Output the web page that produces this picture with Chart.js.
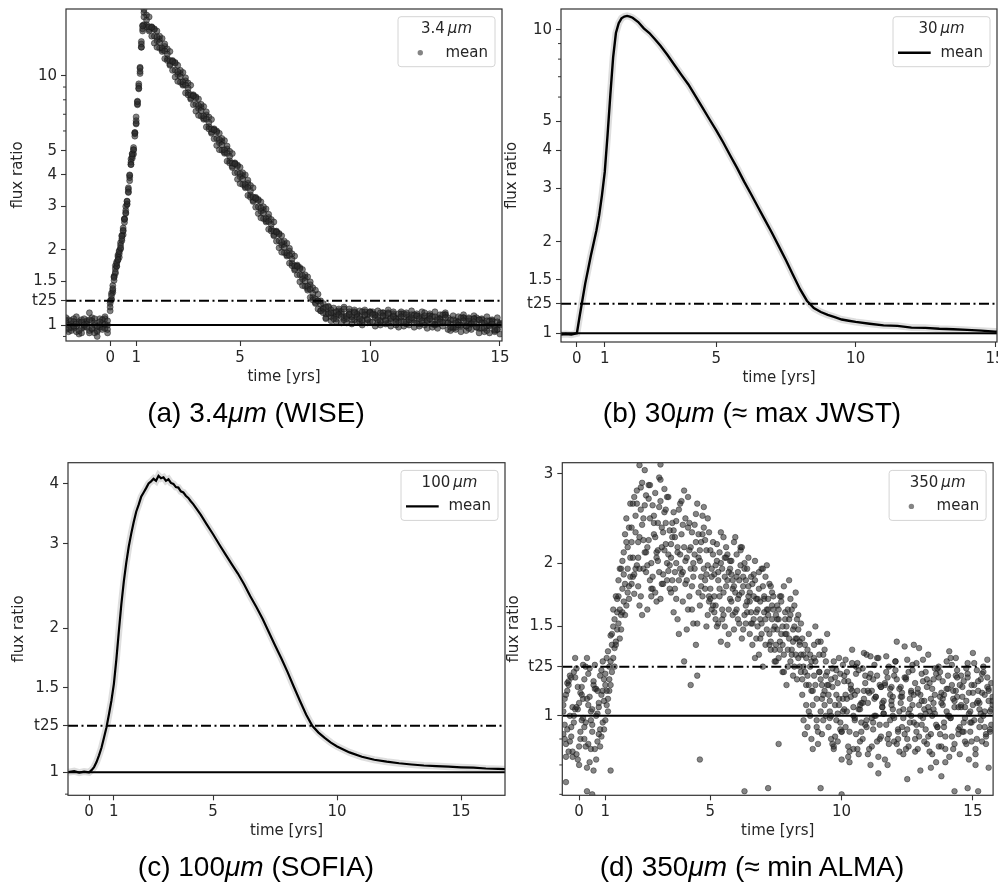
<!DOCTYPE html>
<html><head><meta charset="utf-8">
<script src="https://cdn.jsdelivr.net/npm/chart.js@4.4.1/dist/chart.umd.min.js"></script>
<style>
html,body{margin:0;padding:0;background:#fff;width:998px;height:885px;overflow:hidden;position:relative;}
canvas{position:absolute;}
.cap{position:absolute;font-family:"Liberation Sans",Arial,sans-serif;font-size:28px;color:#000;white-space:nowrap;transform:translate(-50%,-50%);line-height:1;}
.cap i{font-style:italic;}
</style></head><body>
<canvas id="cA" width="512" height="440" style="left:0;top:0"></canvas>
<canvas id="cB" width="500" height="440" style="left:498px;top:0"></canvas>
<canvas id="cC" width="512" height="455" style="left:0;top:430px"></canvas>
<canvas id="cD" width="500" height="455" style="left:498px;top:430px"></canvas>
<div class="cap" style="left:256px;top:413px">(a) 3.4<i>μm</i> (WISE)</div>
<div class="cap" style="left:752px;top:413px">(b) 30<i>μm</i> (≈ max JWST)</div>
<div class="cap" style="left:256px;top:867px">(c) 100<i>μm</i> (SOFIA)</div>
<div class="cap" style="left:752px;top:867px">(d) 350<i>μm</i> (≈ min ALMA)</div>
<script>
// ---------- tick values ----------
const T25 = 1.25;
const xTicks = [0, 1, 5, 10, 15];
const yTicksAB = [1, T25, 1.5, 2, 3, 4, 5, 10];
const yTicksC = [1, T25, 1.5, 2, 3, 4];
const yTicksD = [1, T25, 1.5, 2, 3];
const minorA = [0.9, 6, 7, 8, 9];
const minorB = [6, 7, 8, 9];
const minorC = [0.9];
const minorD = [0.7, 0.8, 0.9];

// ---------- (a) 3.4 um : scatter samples ----------
const tA = [-1.7,-1.6,-1.5,-1.4,-1.3,-1.2,-1.1,-1.0,-0.9,-0.8,-0.7,-0.6,-0.5,-0.4,-0.3,-0.2,-0.1,
0,0.05,0.1,0.15,0.2,0.25,0.3,0.35,0.4,0.45,0.5,0.55,0.6,0.65,0.7,0.75,0.8,0.85,0.9,0.95,1.0,1.05,1.1,1.15,1.2,1.25,
1.3,1.4,1.5,1.6,1.7,1.8,1.9,2.0,2.1,2.2,2.3,2.4,2.5,2.6,2.7,2.8,2.9,3.0,3.1,3.2,3.3,3.4,3.5,3.6,3.7,3.8,3.9,4.0,4.1,4.2,4.3,4.4,4.5,4.6,4.7,4.8,4.9,5.0,5.1,5.2,5.3,5.4,5.5,5.6,5.7,5.8,5.9,6.0,6.1,6.2,6.3,6.4,6.5,6.6,6.7,6.8,6.9,7.0,7.1,7.2,7.3,7.4,7.5,7.6,7.7,7.8,7.9,8.0,
8.1,8.2,8.3,8.4,8.5,8.6,8.7,8.8,8.9,9.0,9.1,9.2,9.3,9.4,9.5,9.6,9.7,9.8,9.9,10.0,10.1,10.2,10.3,10.4,10.5,10.6,10.7,10.8,10.9,11.0,11.1,11.2,11.3,11.4,11.5,11.6,11.7,11.8,11.9,12.0,12.1,12.2,12.3,12.4,12.5,12.6,12.7,12.8,12.9,13.0,13.1,13.2,13.3,13.4,13.5,13.6,13.7,13.8,13.9,14.0,14.1,14.2,14.3,14.4,14.5,14.6,14.7,14.8,14.9,15.0];
const fluxA1 = [1.02,0.97,1.04,0.99,1.01,0.95,1.03,1.00,0.98,1.05,0.97,1.02,0.99,1.03,0.96,1.01,1.04,
1.18,1.31,1.40,1.55,1.63,1.77,1.83,1.97,2.04,2.27,2.40,2.65,2.82,3.13,3.42,3.98,4.40,4.85,5.05,5.85,6.45,7.85,8.9,10.7,13.0,15.8,
17.2,16.7,15.7,15.6,14.4,14.3,13.6,12.9,12.55,12.2,11.5,11.4,10.5,10.4,9.9,9.43,9.16,8.9,8.39,8.30,7.67,7.6,7.24,6.89,6.69,6.49,6.12,6.06,5.6,5.54,5.28,5.03,4.88,4.74,4.46,4.43,4.09,4.05,3.85,3.66,3.56,3.45,3.26,3.22,2.98,2.95,2.81,2.67,2.60,2.53,2.38,2.36,2.18,2.15,2.05,1.95,1.90,1.84,1.73,1.72,1.59,1.58,1.50,1.43,1.39,1.34,1.27,1.25,
1.21,1.12,1.18,1.11,1.12,1.06,1.13,1.10,1.08,1.16,1.08,1.10,1.05,1.12,1.08,1.06,1.13,1.10,1.05,1.12,1.10,1.07,1.05,1.12,1.09,1.04,1.11,1.06,1.08,1.03,1.11,1.08,1.03,1.10,1.05,1.07,1.02,1.09,1.06,1.04,1.09,1.04,1.06,1.01,1.08,1.05,1.03,1.10,1.07,1.02,0.98,1.05,1.02,1.00,1.07,1.04,0.99,1.06,1.01,1.03,0.98,1.05,1.02,0.97,1.04,0.99,1.01,0.96,1.03,1.00];
const fluxA2 = [0.96,1.05,0.98,1.03,0.94,1.02,0.97,1.06,1.01,0.95,1.04,0.93,0.90,0.98,1.05,0.97,1.00,
1.22,1.27,1.44,1.51,1.68,1.72,1.88,1.93,2.09,2.22,2.45,2.58,2.88,3.06,3.50,3.90,4.50,4.75,5.15,5.72,6.6,7.7,9.1,10.4,13.4,15.4,
18.4,15.7,17.2,14.4,15.3,13.0,14.4,12.7,13.4,11.5,12.5,10.5,11.2,9.49,10.5,9.24,9.80,8.37,9.15,7.65,8.14,6.93,7.67,6.75,7.16,6.11,6.67,5.58,5.94,5.05,5.60,4.93,5.22,4.46,4.87,4.08,4.34,3.69,4.08,3.59,3.81,3.25,3.55,2.97,3.16,2.69,2.98,2.62,2.78,2.38,2.59,2.17,2.31,1.96,2.17,1.91,2.03,1.73,1.89,1.59,1.68,1.44,1.59,1.40,1.49,1.26,1.38,1.16,
1.14,1.16,1.11,1.18,1.08,1.12,1.09,1.14,1.13,1.05,1.06,1.11,1.08,1.13,1.11,1.03,1.04,1.09,1.06,1.13,1.11,1.10,1.02,1.03,1.08,1.05,1.12,1.04,1.09,1.06,1.07,1.04,1.11,1.03,1.08,1.05,1.10,1.09,1.01,1.02,1.07,1.04,1.09,1.08,1.00,1.01,1.06,1.03,1.10,1.02,1.05,0.97,0.98,1.03,1.00,1.07,0.99,1.04,1.01,1.06,0.98,1.05,0.97,1.02,0.99,1.04,1.03,0.95,0.96,1.01];
const fluxA3 = [1.04,1.00,0.95,1.06,0.99,1.03,0.93,0.98,1.04,1.12,0.96,1.06,0.95,1.00,1.02,1.06,0.96,
1.14,1.34,1.38,1.57,1.61,1.79,1.82,1.99,2.02,2.29,2.38,2.66,2.80,3.14,3.40,4.00,4.40,4.86,5.04,5.90,6.4,7.9,8.85,10.8,13.0,15.9,
16.0,17.5,15.3,15.7,13.5,15.1,12.9,14.1,11.7,12.8,11.1,11.5,9.87,11.0,9.41,10.3,8.52,9.34,8.13,8.38,7.20,8.06,6.88,7.52,6.22,6.82,5.93,6.12,5.25,5.87,5.02,5.49,4.54,4.97,4.33,4.47,3.84,4.29,3.66,4.00,3.31,3.63,3.16,3.25,2.80,3.12,2.67,2.92,2.42,2.65,2.30,2.38,2.04,2.28,1.95,2.13,1.77,1.93,1.68,1.74,1.49,1.67,1.43,1.56,1.29,1.41,1.23,1.33,
1.25,1.17,1.07,1.12,1.15,1.09,1.06,1.12,1.11,1.07,1.09,1.13,1.08,1.05,1.10,1.09,1.05,1.13,1.10,1.03,1.03,1.09,1.08,1.04,1.12,1.09,1.02,1.07,1.11,1.06,1.03,1.11,1.08,1.01,1.06,1.10,1.05,1.02,1.08,1.07,1.00,1.05,1.09,1.04,1.01,1.07,1.06,1.02,1.10,1.07,1.01,0.98,1.04,1.03,0.99,1.07,1.04,0.97,1.02,1.06,1.01,0.97,1.05,1.02,0.95,1.00,1.04,0.99,0.96,1.02];
const fluxA4 = [1.07,0.94,1.01,0.97,1.08,0.92,1.05,0.99,1.03,0.93,1.07,1.00,0.94,1.06,0.98,1.08,0.93,
1.25,1.26,1.35,1.56,1.73,1.72,1.91,1.87,2.14,2.18,2.30,2.67,2.99,3.04,3.55,3.79,4.63,4.66,4.85,5.92,6.83,7.64,9.27,10.2,13.7,15.1,
17.9,16.0,15.1,15.6,15.4,13.8,14.0,12.5,13.1,11.7,11.0,11.4,11.3,10.1,10.2,9.15,9.53,8.55,8.05,8.30,8.22,7.38,7.46,6.68,6.96,6.24,5.87,6.06,6.00,5.38,5.44,4.88,5.08,4.55,4.28,4.43,4.38,3.93,3.97,3.55,3.70,3.32,3.13,3.22,3.19,2.86,2.89,2.59,2.70,2.43,2.28,2.36,2.33,2.09,2.11,1.89,1.98,1.77,1.66,1.72,1.70,1.53,1.55,1.38,1.45,1.29,1.22,1.25,
1.14,1.22,1.06,1.19,1.04,1.17,1.03,1.16,1.02,1.18,1.02,1.16,1.01,1.15,1.03,1.14,1.00,1.15,1.02,1.13,1.13,0.99,1.14,1.00,1.12,1.01,1.15,0.99,1.13,1.00,0.98,1.13,0.99,1.12,1.00,1.14,0.98,1.11,0.99,1.13,1.12,0.97,1.11,0.98,1.13,0.97,1.10,0.99,1.12,0.96,0.95,1.09,0.96,1.08,0.94,1.10,0.95,1.07,0.96,1.09,1.07,0.93,1.06,0.94,1.08,0.93,1.05,0.94,1.07,0.92];

// ---------- (b) 30 um : mean curve ----------
const tB = [-0.57,-0.4,-0.2,0,0.1,0.2,0.3,0.4,0.5,0.6,0.7,0.8,0.9,1.0,1.1,1.2,1.3,1.4,1.5,1.6,1.7,1.8,1.9,2.0,2.2,2.4,2.6,2.8,3.0,
3.25,3.5,3.75,4.0,4.25,4.5,4.75,5.0,5.25,5.5,5.75,6.0,6.25,6.5,6.75,7.0,7.25,7.5,7.75,8.0,8.25,8.5,8.75,9.0,9.25,9.5,9.75,10.0,
10.5,11.0,11.5,12.0,12.5,13.0,13.5,14.0,14.5,15.0,15.07];
const fluxB = [0.99,0.995,0.99,1.0,1.14,1.29,1.46,1.62,1.80,1.98,2.18,2.45,2.85,3.4,4.5,6.1,8.1,9.75,10.5,10.9,11.05,11.1,11.05,10.95,10.6,10.1,9.75,9.3,8.85,
8.25,7.65,7.1,6.6,6.05,5.55,5.08,4.66,4.25,3.85,3.5,3.16,2.87,2.6,2.36,2.14,1.93,1.74,1.56,1.40,1.28,1.21,1.175,1.15,1.13,1.11,1.10,1.09,
1.075,1.062,1.058,1.044,1.042,1.035,1.031,1.026,1.02,1.013,1.012];

// ---------- (c) 100 um : mean curve ----------
const tC = [-0.85,-0.6,-0.4,-0.2,0,0.1,0.2,0.3,0.4,0.5,0.6,0.7,0.8,0.9,1.0,1.1,1.2,1.3,1.4,1.5,1.6,1.7,1.8,1.9,2.0,2.1,2.2,2.3,2.4,2.5,2.6,2.7,2.8,2.9,3.0,3.1,3.2,3.3,3.4,3.5,3.6,3.7,3.8,3.9,4.0,4.1,4.2,4.3,
4.5,4.75,5.0,5.25,5.5,5.75,6.0,6.25,6.5,6.75,7.0,7.25,7.5,7.75,8.0,8.25,8.5,8.75,9.0,9.25,9.5,9.75,10.0,
10.5,11.0,11.5,12.0,12.5,13.0,13.5,14.0,14.5,15.0,15.5,16.0,16.5,16.77];
const fluxC = [1.0,1.005,0.998,1.003,1.0,1.01,1.025,1.05,1.085,1.125,1.18,1.24,1.32,1.41,1.53,1.72,1.97,2.24,2.50,2.74,2.96,3.15,3.33,3.50,3.62,3.76,3.84,3.92,4.01,4.05,4.10,4.06,4.16,4.11,4.13,4.06,4.09,4.02,4.00,3.94,3.93,3.86,3.84,3.78,3.74,3.68,3.63,3.57,
3.45,3.29,3.14,2.99,2.85,2.72,2.60,2.47,2.33,2.21,2.09,1.96,1.84,1.73,1.62,1.51,1.41,1.32,1.25,1.21,1.18,1.153,1.132,
1.10,1.077,1.062,1.052,1.044,1.038,1.033,1.03,1.027,1.024,1.022,1.018,1.016,1.015];

// ---------- (d) 350 um : scatter samples ----------
const tDa = [-0.6,-0.5,-0.4,-0.3,-0.2,-0.1,0,0.1,0.2,0.3,0.4,0.5,0.6,0.7,0.8,0.9,1.0,1.1,1.2,1.3,1.4,1.5,1.6,1.7,1.8,1.9,
2.0,2.1,2.2,2.3,2.4,2.5,2.6,2.7,2.8,2.9,3.0,3.1,3.2,3.3,3.4,3.5,3.6,3.7,3.8,3.9,4.0,4.1,4.2,4.3,4.4,4.5,4.6,4.7,4.8,4.9,
5.0,5.1,5.2,5.3,5.4,5.5,5.6,5.7,5.8,5.9,6.0,6.1,6.2,6.3,6.4,6.5,6.6,6.7,6.8,6.9,7.0,7.1,7.2,7.3,7.4,7.5,7.6,7.7,7.8,7.9,8.0,8.1,8.2,8.3,8.4,
8.5,8.6,8.7,8.8,8.9,9.0,9.1,9.2,9.3,9.4,9.5,9.6,9.7,9.8,9.9,10.0,10.1,10.2,10.3,10.4,10.5,10.6,10.7,10.8,10.9,11.0,11.1,11.2,11.3,11.4,11.5,11.6,11.7,11.8,11.9,12.0,
12.1,12.2,12.3,12.4,12.5,12.6,12.7,12.8,12.9,13.0,13.1,13.2,13.3,13.4,13.5,13.6,13.7,13.8,13.9,14.0,14.1,14.2,14.3,14.4,14.5,14.6,14.7,14.8,14.9,15.0,15.1,15.2,15.3,15.4,15.5,15.6,15.7];
const tDb = [-0.55,-0.45,-0.35,-0.25,-0.15,-0.05,0.05,0.15,0.25,0.35,0.45,0.55,0.65,0.75,0.85,0.95,1.05,1.15,1.25,1.35,1.45,1.55,1.65,1.75,1.85,1.95,
2.05,2.15,2.25,2.35,2.45,2.55,2.65,2.75,2.85,2.95,3.05,3.15,3.25,3.35,3.45,3.55,3.65,3.75,3.85,3.95,4.05,4.15,4.25,4.35,4.45,4.55,4.65,4.75,4.85,4.95,
5.05,5.15,5.25,5.35,5.45,5.55,5.65,5.75,5.85,5.95,6.05,6.15,6.25,6.35,6.45,6.55,6.65,6.75,6.85,6.95,7.05,7.15,7.25,7.35,7.45,7.55,7.65,7.75,7.85,7.95,8.05,8.15,8.25,8.35,
8.45,8.55,8.65,8.75,8.85,8.95,9.05,9.15,9.25,9.35,9.45,9.55,9.65,9.75,9.85,9.95,10.05,10.15,10.25,10.35,10.45,10.55,10.65,10.75,10.85,10.95,11.05,11.15,11.25,11.35,11.45,11.55,11.65,11.75,11.85,11.95,
12.05,12.15,12.25,12.35,12.45,12.55,12.65,12.75,12.85,12.95,13.05,13.15,13.25,13.35,13.45,13.55,13.65,13.75,13.85,13.95,14.05,14.15,14.25,14.35,14.45,14.55,14.65,14.75,14.85,14.95,15.05,15.15,15.25,15.35,15.45,15.55,15.65,15.75];
const fluxDa1 = [1.02,0.88,1.15,0.95,1.22,0.84,1.06,0.98,1.18,0.79,1.09,0.93,1.26,1.01,0.87,1.12,
1.21,1.08,1.44,1.30,1.72,
1.52,1.95,1.68,2.20,1.80,
2.35,1.74,2.62,1.95,2.88,2.10,1.62,2.45,1.88,2.75,2.02,1.70,2.30,2.55,1.93,
2.18,1.60,2.42,1.85,2.65,1.28,2.05,1.72,2.30,1.95,1.52,2.12,2.48,1.78,1.98,
1.70,2.08,1.55,1.92,1.40,2.25,1.80,1.62,2.02,1.48,1.88,1.73,2.15,1.58,1.95,
1.45,1.82,1.30,1.70,1.55,1.95,1.38,1.62,1.80,1.48,
1.58,1.30,1.72,1.22,1.45,1.85,1.35,1.50,1.18,1.40,
1.10,1.38,0.95,1.25,1.05,1.50,0.88,1.18,1.32,1.00,
1.15,0.90,1.28,0.98,1.08,0.82,1.20,1.02,0.93,1.35,1.10,0.86,1.05,1.24,0.96,1.12,0.80,1.18,1.00,1.30,0.91,1.07,1.22,0.88,1.14,0.99,1.40,0.85,1.09,1.19,0.94,1.03,1.26,0.90,1.13,0.78,1.17,1.01,1.32,0.92,1.06,1.21,0.87,1.11,0.97,1.28,0.83,1.15,1.04,1.23,0.95,1.09,0.89,1.19,1.02,1.33,0.86,1.12,0.98,1.25,0.91,1.07,1.16];
const fluxDa2 = [0.92,1.10,0.85,1.19,0.97,1.04,0.80,1.14,0.90,1.08,1.24,0.96,0.86,1.12,0.94,1.28,
0.98,1.34,1.15,1.62,1.40,
1.85,1.48,2.10,1.65,2.35,
1.82,2.70,1.98,2.25,1.58,3.05,2.15,1.85,2.60,1.75,2.40,2.92,1.90,2.18,2.08,
1.75,2.52,2.00,1.45,2.28,2.78,1.85,2.12,1.62,2.38,1.20,2.02,1.72,2.22,1.58,
2.12,1.65,1.98,1.52,2.30,1.75,2.05,1.45,1.90,2.20,1.62,1.85,1.42,2.00,1.68,
1.75,1.38,2.02,1.50,1.68,1.25,1.88,1.58,1.35,1.72,
1.28,1.62,1.45,1.80,1.15,1.55,1.32,1.65,1.42,1.25,
1.42,0.92,1.20,1.32,0.86,1.15,1.40,1.02,0.98,1.28,
0.95,1.18,0.86,1.10,1.30,0.93,1.03,1.22,0.81,1.12,0.99,1.27,0.89,1.06,1.16,0.84,1.21,0.97,1.09,0.77,1.14,1.01,1.31,0.92,1.05,1.20,0.88,1.13,0.95,1.37,0.90,1.08,1.23,0.85,1.11,1.00,1.29,0.94,1.04,0.79,1.18,0.96,1.25,0.87,1.10,1.02,1.34,0.91,1.07,1.19,0.84,1.14,0.99,1.27,0.93,1.05,0.80,1.17,1.01,1.22,0.88,1.12,0.96];
const fluxDa3 = [1.05,0.83,1.17,0.91,1.00,1.24,0.87,1.10,0.95,1.30,0.81,1.03,1.13,0.89,1.20,0.97,
1.15,1.02,1.28,1.50,1.38,
1.72,1.58,1.90,2.45,1.70,
2.20,1.90,2.78,1.65,2.38,2.60,1.98,2.85,1.78,2.25,2.12,2.65,1.82,2.40,2.70,
2.05,2.32,1.70,2.55,1.90,2.15,1.48,2.40,1.80,2.08,2.62,1.65,2.28,1.85,2.45,
1.78,2.20,1.65,1.85,2.00,1.58,2.15,1.92,1.68,1.80,2.08,1.52,1.75,1.95,1.60,
1.68,1.52,1.85,1.62,1.42,1.80,1.55,1.70,1.40,1.62,
1.38,1.55,1.68,1.32,1.50,1.42,1.62,1.25,1.55,1.38,
1.18,1.22,1.35,1.00,1.12,1.28,0.93,1.40,1.10,1.20,
1.10,1.00,0.87,1.23,1.05,0.93,1.17,1.08,0.85,1.27,0.98,1.12,1.03,0.90,1.20,1.06,1.31,0.94,1.09,0.83,1.14,1.01,0.96,1.25,1.07,0.89,1.18,1.02,1.11,0.92,1.29,0.97,1.05,1.16,0.86,1.10,0.99,1.22,0.91,1.08,1.03,0.81,1.19,1.06,0.95,1.13,1.00,1.26,0.88,1.09,1.15,0.93,1.04,1.21,0.97,1.11,0.84,1.07,1.18,1.00,0.92,1.13,1.03];
const fluxDb1 = [1.08,0.94,1.20,0.83,1.03,1.14,0.90,1.26,0.97,1.05,0.86,1.17,1.00,0.92,1.23,1.07,
1.12,1.25,1.22,1.55,1.48,
1.62,1.78,2.28,1.95,2.05,
2.05,2.48,1.80,2.82,2.22,1.92,2.68,2.00,2.40,1.68,2.95,2.15,2.52,1.85,2.32,
2.40,1.92,2.15,2.62,1.68,2.02,2.35,1.15,1.88,2.50,1.75,2.20,1.95,1.50,2.30,
1.88,1.60,2.18,1.78,1.95,1.50,2.08,1.70,1.85,2.25,1.55,1.98,1.80,1.65,2.05,
1.60,1.90,1.42,1.78,1.52,1.72,1.98,1.45,1.65,1.35,
1.48,1.72,1.38,1.55,1.62,1.28,1.48,1.75,1.30,1.52,
1.25,1.05,1.45,1.12,1.30,0.95,1.22,1.08,1.35,1.15,
1.02,1.24,0.91,1.16,0.97,1.08,1.29,0.87,1.13,1.00,1.21,0.84,1.06,1.33,0.95,1.11,0.99,1.26,0.89,1.15,1.04,0.82,1.19,0.98,1.09,1.28,0.90,1.14,1.03,0.86,1.22,1.00,1.10,0.93,1.36,0.96,1.07,1.18,0.85,1.13,1.01,1.24,0.92,1.08,0.81,1.20,0.99,1.12,1.30,0.94,1.05,1.17,0.88,1.11,0.97,1.27,0.90,1.06,1.21,0.95,1.14,1.02,1.09];
const fluxDb2 = [0.96,1.16,0.89,1.04,1.30,0.82,1.11,0.99,0.87,1.21,1.02,0.78,1.13,1.06,0.91,1.18,
1.05,1.18,1.38,1.36,1.70,
1.42,2.02,1.58,1.75,2.62,
2.62,1.95,2.20,1.72,2.45,2.10,2.85,1.78,2.28,2.05,2.58,1.82,2.12,2.70,1.98,
1.85,2.25,1.55,2.08,1.92,2.45,1.62,2.15,2.00,1.38,2.28,1.80,2.58,1.90,1.72,
1.95,1.72,1.50,2.10,1.62,1.88,1.38,2.02,1.78,1.60,1.92,2.12,1.48,1.85,1.72,
1.88,1.55,1.70,1.32,1.95,1.60,1.48,1.82,1.55,1.28,
1.65,1.40,1.22,1.60,1.35,1.70,1.20,1.42,1.58,1.32,
0.98,1.30,1.15,0.90,1.38,1.08,1.22,0.92,1.12,1.45,
1.07,0.88,1.19,1.01,0.94,1.26,1.10,0.83,1.15,1.04,0.92,1.23,0.97,1.08,1.32,0.86,1.12,1.00,1.20,0.90,1.06,1.16,0.80,1.13,1.03,1.28,0.93,1.09,0.99,1.19,0.87,1.11,1.38,0.96,1.05,1.21,0.89,1.14,1.02,0.84,1.24,0.95,1.09,1.17,0.91,1.00,1.30,0.86,1.12,1.04,1.20,0.93,1.07,0.82,1.15,0.98,1.23,1.03,0.89,1.10,1.29,0.94,1.05];
const fluxDb3 = [0.90,1.12,1.00,0.85,1.19,1.03,0.93,1.08,1.25,0.88,0.98,1.15,0.82,1.04,1.10,0.94,
1.30,1.12,1.45,1.25,1.60,
1.95,1.60,1.82,2.15,1.88,
1.88,2.30,2.05,2.55,1.95,2.72,2.22,1.72,2.48,2.10,1.92,2.35,2.80,2.00,1.78,
2.25,1.78,2.10,1.95,2.38,1.82,2.70,1.95,1.52,2.20,2.05,1.88,2.35,2.12,1.68,
1.62,1.90,2.02,1.72,1.55,2.05,1.85,1.95,1.58,1.75,1.70,2.15,1.88,1.52,1.80,
1.52,1.72,1.60,1.92,1.45,1.70,1.62,1.38,1.75,1.50,
1.55,1.35,1.50,1.45,1.25,1.58,1.40,1.32,1.48,1.22,
1.32,1.15,1.02,1.28,1.20,0.98,1.32,1.15,1.05,1.22,
0.99,1.14,1.05,0.89,1.21,1.02,0.95,1.17,1.09,0.86,1.25,1.03,0.93,1.12,0.98,1.19,0.87,1.08,1.30,0.96,1.04,1.15,0.90,1.10,1.00,1.23,0.94,1.06,0.84,1.18,1.01,1.12,0.97,1.27,0.91,1.07,1.03,0.88,1.16,1.00,1.10,0.95,1.22,1.05,0.86,1.13,0.99,1.08,1.20,0.92,1.04,0.97,1.24,1.01,0.89,1.15,1.06,0.95,1.11,1.02,1.19,0.93,1.07];
const tDout = [-0.5,0.3,0.5,1.2,2.3,3.1,4.6,6.3,7.2,7.6,9.2,10.0,12.5,13.8,14.3,14.8,15.2,15.6];
const fluxDout = [0.74,0.71,0.70,0.78,3.12,3.13,0.82,0.71,0.72,0.88,0.72,0.70,0.75,0.76,0.71,0.72,0.71,0.79];

// ---------- helpers ----------
const FONT = '"DejaVu Sans", sans-serif';
const FS = 15;
const TXT = '#262626';
const pts = (xs, ys) => xs.map((x, i) => ({x: x, y: ys[i]}));

function roundRectPath(ctx, x, y, w, h, r) {
  ctx.beginPath();
  ctx.moveTo(x + r, y); ctx.lineTo(x + w - r, y); ctx.arcTo(x + w, y, x + w, y + r, r);
  ctx.lineTo(x + w, y + h - r); ctx.arcTo(x + w, y + h, x + w - r, y + h, r);
  ctx.lineTo(x + r, y + h); ctx.arcTo(x, y + h, x, y + h - r, r);
  ctx.lineTo(x, y + r); ctx.arcTo(x, y, x + r, y, r); ctx.closePath();
}

const decor = {
  id: 'panelDecor',
  afterDatasetsDraw(chart, args, o) {
    const ctx = chart.ctx, ca = chart.chartArea, ys = chart.scales.y;
    ctx.save();
    ctx.beginPath(); ctx.rect(ca.left, ca.top, ca.right - ca.left, ca.bottom - ca.top); ctx.clip();
    const y1 = ys.getPixelForValue(1);
    ctx.strokeStyle = '#000'; ctx.lineWidth = 2; ctx.setLineDash([]);
    ctx.beginPath(); ctx.moveTo(ca.left, y1); ctx.lineTo(ca.right, y1); ctx.stroke();
    const y25 = ys.getPixelForValue(T25);
    ctx.setLineDash([10, 3.5, 2, 3.5]);
    ctx.beginPath(); ctx.moveTo(ca.left, y25); ctx.lineTo(ca.right, y25); ctx.stroke();
    ctx.restore();
    ctx.save();
    ctx.strokeStyle = '#333'; ctx.lineWidth = 1;
    o.minor.forEach(v => {
      const y = ys.getPixelForValue(v);
      if (y >= ca.top - 0.5 && y <= ca.bottom + 0.5) {
        ctx.beginPath(); ctx.moveTo(ca.left - 3, y); ctx.lineTo(ca.left, y); ctx.stroke();
      }
    });
    ctx.strokeStyle = '#333'; ctx.lineWidth = 1.2;
    ctx.strokeRect(ca.left, ca.top, ca.right - ca.left, ca.bottom - ca.top);
    const bw = 97, bh = 50, bx = ca.right - 7 - bw, by = ca.top + 7.7;
    roundRectPath(ctx, bx, by, bw, bh, 3);
    ctx.fillStyle = 'rgba(255,255,255,0.85)'; ctx.fill();
    ctx.strokeStyle = '#d4d4d4'; ctx.lineWidth = 1; ctx.stroke();
    const f = FS + 'px ' + FONT, fi = 'italic ' + FS + 'px ' + FONT;
    ctx.font = f; const w1 = ctx.measureText(o.title + '\u2009').width;
    ctx.font = fi; const w2 = ctx.measureText('μm').width;
    const x0 = bx + bw / 2 - (w1 + w2) / 2, ty = by + 12.5;
    ctx.fillStyle = TXT; ctx.textBaseline = 'middle'; ctx.textAlign = 'left';
    ctx.font = f; ctx.fillText(o.title + '\u2009', x0, ty);
    ctx.font = fi; ctx.fillText('μm', x0 + w1, ty);
    const ey = by + 36;
    if (o.kind === 'dot') {
      ctx.beginPath(); ctx.arc(bx + 22.3, ey, 2.7, 0, Math.PI * 2);
      ctx.fillStyle = 'rgba(50,50,50,0.6)'; ctx.fill();
    } else {
      ctx.strokeStyle = '#000'; ctx.lineWidth = 2.4;
      ctx.beginPath(); ctx.moveTo(bx + 5, ey); ctx.lineTo(bx + 37.7, ey); ctx.stroke();
    }
    ctx.fillStyle = TXT; ctx.font = f; ctx.fillText('mean', bx + 47.5, ey);
    ctx.restore();
  }
};

function makePanel(id, p) {
  return new Chart(document.getElementById(id), {
    type: 'scatter',
    data: { datasets: p.datasets },
    plugins: [decor],
    options: {
      responsive: false, animation: false, devicePixelRatio: 1, events: [],
      layout: { padding: { left: 0, top: p.padTop, right: p.padRight, bottom: p.padBottom } },
      plugins: { legend: { display: false }, tooltip: { enabled: false },
        panelDecor: { minor: p.minor, title: p.legendTitle, kind: p.legendKind } },
      scales: {
        x: {
          type: 'linear', min: p.xMin, max: p.xMax,
          afterBuildTicks: s => { s.ticks = xTicks.map(v => ({value: v})); },
          afterFit: s => { s.height = 45; s.paddingLeft = 0; s.paddingRight = 0; },
          ticks: { autoSkip: false, maxRotation: 0, font: { family: FONT, size: FS }, color: TXT, padding: 3,
                   callback: v => String(v) },
          grid: { drawOnChartArea: false, drawTicks: true, tickLength: 5, tickColor: '#333', tickWidth: 1.1 },
          border: { display: false },
          title: { display: true, text: 'time [yrs]', font: { family: FONT, size: FS }, color: TXT, padding: 0 }
        },
        y: {
          type: 'logarithmic', min: p.yMin, max: p.yMax,
          afterBuildTicks: s => { s.ticks = p.yTicks.map(v => ({value: v})); },
          afterFit: s => { s.width = p.yWidth; s.paddingTop = 0; s.paddingBottom = 0; },
          ticks: { autoSkip: false, font: { family: FONT, size: FS }, color: TXT, padding: 4,
                   callback: v => (v === T25 ? 't25' : String(v)) },
          grid: { drawOnChartArea: false, drawTicks: true, tickLength: 5, tickColor: '#333', tickWidth: 1.1 },
          border: { display: false },
          title: { display: true, text: 'flux ratio', font: { family: FONT, size: FS }, color: TXT,
                   padding: { top: p.yTitlePad, bottom: 0 } }
        }
      }
    }
  });
}

const dotSet = (xs, ys, r, a) => ({
  data: pts(xs, ys), showLine: false, clip: 0,
  pointRadius: r, pointBackgroundColor: 'rgba(45,45,45,' + a + ')',
  pointBorderColor: 'rgba(20,20,20,' + (a - 0.1) + ')', pointBorderWidth: 0.9
});
const lineSets = (xs, ys, w) => [
  { data: pts(xs, ys), showLine: true, clip: 0, pointRadius: 0, borderColor: 'rgba(0,0,0,0.13)', borderWidth: 7 },
  { data: pts(xs, ys), showLine: true, clip: 0, pointRadius: 0, borderColor: '#000', borderWidth: w }
];

makePanel('cA', {
  datasets: [dotSet(tA, fluxA1, 3, 0.6), dotSet(tA, fluxA2, 3, 0.6), dotSet(tA, fluxA3, 3, 0.6), dotSet(tA, fluxA4, 3, 0.6)],
  xMin: -1.7, xMax: 15.08, yMin: 0.863, yMax: 18.5, yTicks: yTicksAB, minor: minorA,
  yWidth: 66, padTop: 9, padRight: 10, padBottom: 54, yTitlePad: 9,
  legendTitle: '3.4', legendKind: 'dot'
});
makePanel('cB', {
  datasets: lineSets(tB, fluxB, 2.4),
  xMin: -0.57, xMax: 15.07, yMin: 0.936, yMax: 11.7, yTicks: yTicksAB, minor: minorB,
  yWidth: 63, padTop: 9, padRight: 1, padBottom: 53, yTitlePad: 5.5,
  legendTitle: '30', legendKind: 'line'
});
makePanel('cC', {
  datasets: lineSets(tC, fluxC, 2.2),
  xMin: -0.85, xMax: 16.77, yMin: 0.895, yMax: 4.43, yTicks: yTicksC, minor: minorC,
  yWidth: 68, padTop: 32.7, padRight: 7, padBottom: 44.7, yTitlePad: 10.2,
  legendTitle: '100', legendKind: 'line'
});
makePanel('cD', {
  datasets: [dotSet(tDa, fluxDa1, 2.8, 0.58), dotSet(tDa, fluxDa2, 2.8, 0.58), dotSet(tDa, fluxDa3, 2.8, 0.58),
             dotSet(tDb, fluxDb1, 2.8, 0.58), dotSet(tDb, fluxDb2, 2.8, 0.58), dotSet(tDb, fluxDb3, 2.8, 0.58),
             dotSet(tDout, fluxDout, 2.8, 0.58)],
  xMin: -0.64, xMax: 15.77, yMin: 0.697, yMax: 3.155, yTicks: yTicksD, minor: minorD,
  yWidth: 64.3, padTop: 32.7, padRight: 0.7, padBottom: 44.7, yTitlePad: 7,
  legendTitle: '350', legendKind: 'dot'
});
</script>
</body></html>
